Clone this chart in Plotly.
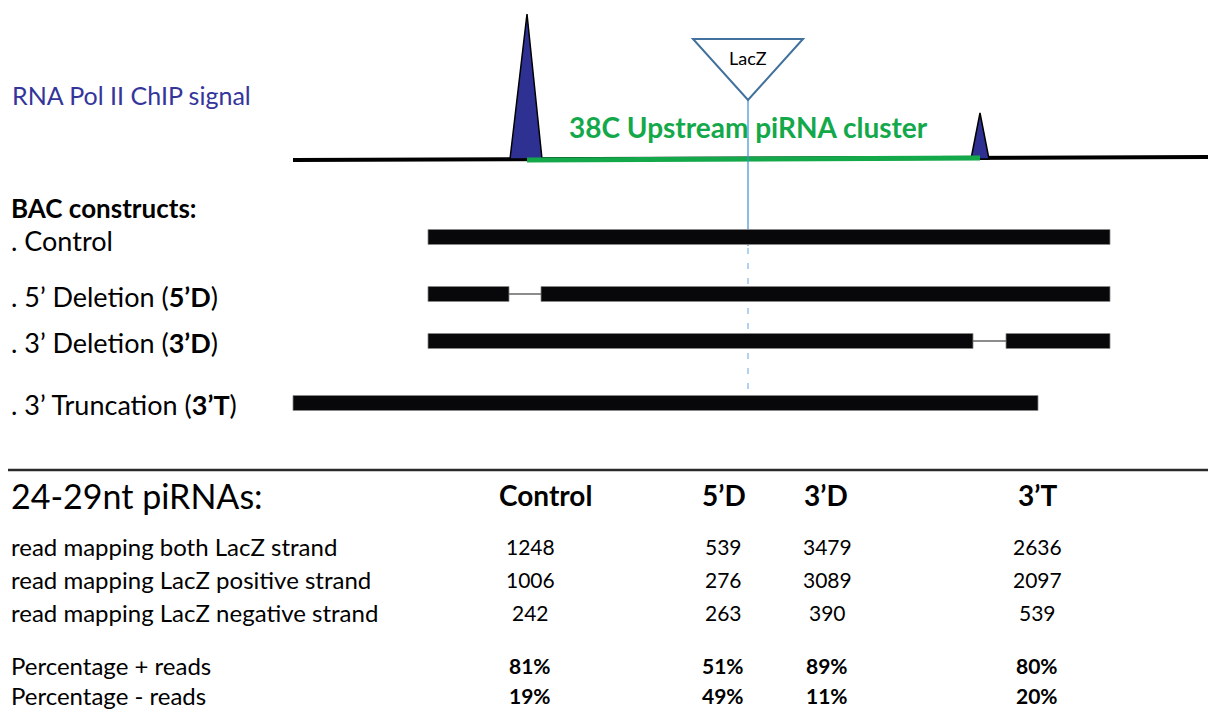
import plotly.graph_objects as go

# ---------------- data ----------------
baseline_x = [293, 1216]
cluster_x = [527, 980]
cluster_label = "38C Upstream piRNA cluster"
peak_left = dict(x0=510, x1=542, apex=527, height=145)
peak_right = dict(x0=971, x1=989, apex=980, height=46)
lacz_x = 748

construct_names = [". Control", ". 5’ Deletion (<b>5’D</b>)", ". 3’ Deletion (<b>3’D</b>)", ". 3’ Truncation (<b>3’T</b>)"]
construct_segments = [
    [(428, 1110)],
    [(428, 509), (541, 1110)],
    [(428, 973), (1006, 1110)],
    [(293, 1038)],
]
construct_rows = [237, 294, 341, 403]
label_rows = [240, 296, 342, 404]

columns = ["Control", "5’D", "3’D", "3’T"]
header_x = [545, 724, 826, 1037]
row_labels = ["read mapping both LacZ strand", "read mapping LacZ positive strand", "read mapping LacZ negative strand"]
both_strand = [1248, 539, 3479, 2636]
pos_strand = [1006, 276, 3089, 2097]
neg_strand = [242, 263, 390, 539]
pct_plus = ["81%", "51%", "89%", "80%"]
pct_minus = ["19%", "49%", "11%", "20%"]
col_x = [530, 723, 827, 1037]

FONT = "Lato"
BASE_Y = 159
OFF = 8  # page body margin compensation

fig = go.Figure()
shapes = []
ann = []

def T(x, y, text, size, color="black", anchor="left"):
    ann.append(dict(x=x, y=y, text=text, showarrow=False, xanchor=anchor, yanchor="middle",
                    font=dict(family=FONT, size=size, color=color)))

# baseline
shapes.append(dict(type="line", x0=baseline_x[0], x1=baseline_x[1], y0=BASE_Y + 1, y1=BASE_Y - 2,
                   line=dict(color="black", width=4)))
# peaks
for p in (peak_left, peak_right):
    path = f"M {p['x0']} {BASE_Y} L {p['apex']} {BASE_Y - p['height']} L {p['x1']} {BASE_Y} Z"
    shapes.append(dict(type="path", path=path, fillcolor="#2e3192", line=dict(color="black", width=1.5)))
# cluster green line
shapes.append(dict(type="line", x0=cluster_x[0], x1=cluster_x[1], y0=BASE_Y + 1, y1=BASE_Y - 1,
                   line=dict(color="#13a84a", width=5)))
# LacZ vertical line
shapes.append(dict(type="line", x0=lacz_x, x1=lacz_x, y0=100, y1=246, line=dict(color="#3b8fd6", width=1.2)))
shapes.append(dict(type="line", x0=lacz_x, x1=lacz_x, y0=248, y1=398,
                   line=dict(color="#7fb5e6", width=1.2, dash="6px,9px")))
# LacZ triangle
shapes.append(dict(type="path", path=f"M {lacz_x-55} 39 L {lacz_x+55} 39 L {lacz_x} 100 Z",
                   fillcolor="white", line=dict(color="#41719c", width=2)))
T(lacz_x, 58, "LacZ", 18, anchor="center")
T(lacz_x, 127, f"<b>{cluster_label}</b>", 28, color="#13a84a", anchor="center")
T(10, 95, "RNA Pol II ChIP signal", 25, color="#34359a")
T(9, 208, "<b>BAC constructs:</b>", 26)

# constructs
for name, segs, yr, yl in zip(construct_names, construct_segments, construct_rows, label_rows):
    for (a, b) in segs:
        shapes.append(dict(type="rect", x0=a, x1=b, y0=yr - 7.5, y1=yr + 7.5, fillcolor="#08080a",
                           line=dict(color="#888888", width=0.8)))
    for i in range(len(segs) - 1):
        shapes.append(dict(type="line", x0=segs[i][1], x1=segs[i + 1][0], y0=yr, y1=yr,
                           line=dict(color="#666666", width=1.5)))
    T(9, yl, name, 27)

# separator
shapes.append(dict(type="line", x0=0, x1=1216, y0=470, y1=470, line=dict(color="#2a2a2a", width=2.5)))

# table
T(9, 495, "24-29nt piRNAs:", 34)
for hx, c in zip(header_x, columns):
    T(hx, 495, f"<b>{c}</b>", 28, anchor="center")
rows_y = [546, 579, 612]
for lbl, vals, ry in zip(row_labels, [both_strand, pos_strand, neg_strand], rows_y):
    T(9, ry, lbl, 24)
    for cx, v in zip(col_x, vals):
        T(cx, ry, str(v), 21, anchor="center")
for lbl, vals, ry in zip(["Percentage + reads", "Percentage - reads"], [pct_plus, pct_minus], [665, 695]):
    T(9, ry, lbl, 24)
    for cx, v in zip(col_x, vals):
        T(cx, ry, f"<b>{v}</b>", 21, anchor="center")

fig.update_layout(
    width=1216 - OFF, height=711 - OFF, margin=dict(l=0, r=0, t=0, b=0),
    paper_bgcolor="white", plot_bgcolor="white",
    xaxis=dict(range=[OFF, 1216], visible=False, fixedrange=True),
    yaxis=dict(range=[711, OFF], visible=False, fixedrange=True),
    shapes=shapes, annotations=ann, showlegend=False,
)
fig.write_html("out.html", config={"displayModeBar": False})
